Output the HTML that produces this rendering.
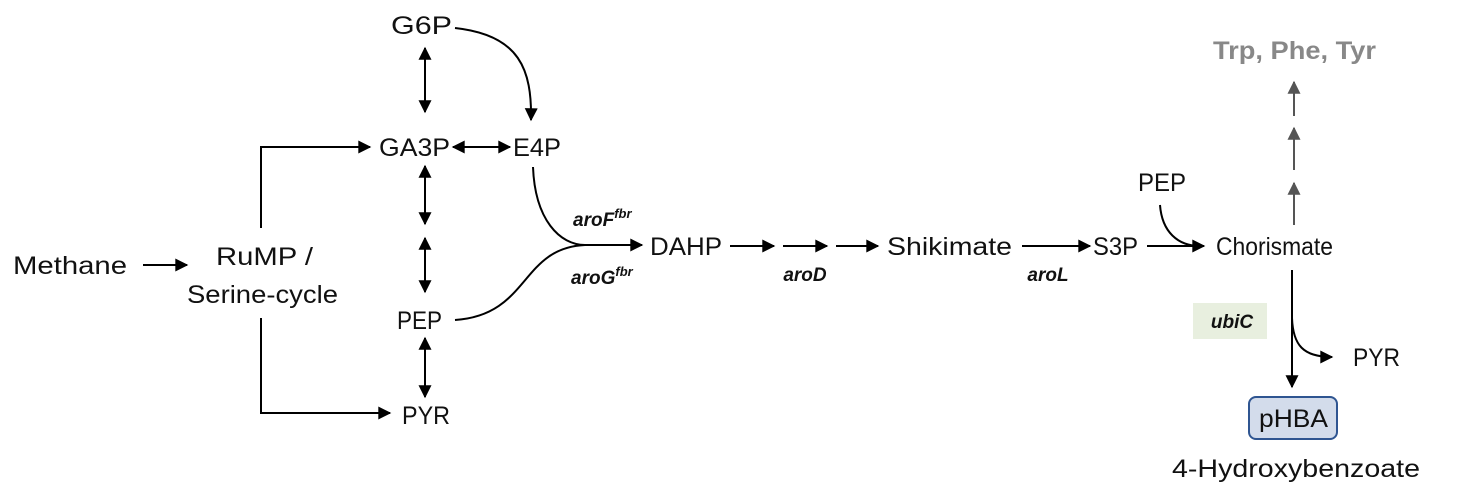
<!DOCTYPE html>
<html><head><style>
html,body{margin:0;padding:0;background:#fff;width:1460px;height:488px;overflow:hidden}
text{font-family:"Liberation Sans","DejaVu Sans",sans-serif;font-size:25px;fill:#111}
.e{font-style:italic;font-weight:bold;font-size:19px}
</style></head><body>
<svg width="1460" height="488" viewBox="0 0 1460 488" xmlns="http://www.w3.org/2000/svg">
<defs>
<marker id="a" viewBox="0 0 10 10" refX="9" refY="5" markerWidth="14" markerHeight="13" markerUnits="userSpaceOnUse" orient="auto-start-reverse"><path d="M0,0 L10,5 L0,10 z" fill="#000"/></marker>
<marker id="g" viewBox="0 0 10 10" refX="9" refY="5" markerWidth="14" markerHeight="13" markerUnits="userSpaceOnUse" orient="auto"><path d="M0,0 L10,5 L0,10 z" fill="#555"/></marker>
</defs>
<g stroke="#000" stroke-width="2" fill="none">
<path d="M143 265 H187" marker-end="url(#a)"/>
<path d="M261 228 V147 H370" marker-end="url(#a)"/>
<path d="M261 318 V413 H390" marker-end="url(#a)"/>
<path d="M425 48 V112" marker-start="url(#a)" marker-end="url(#a)"/>
<path d="M425 166 V224" marker-start="url(#a)" marker-end="url(#a)"/>
<path d="M425 238 V292" marker-start="url(#a)" marker-end="url(#a)"/>
<path d="M425 338 V397" marker-start="url(#a)" marker-end="url(#a)"/>
<path d="M453 147 H510" marker-start="url(#a)" marker-end="url(#a)"/>
<path d="M455 28 C520 35 532 70 531 120" marker-end="url(#a)"/>
<path d="M533 167 C535 220 560 245 585 245 H642" marker-end="url(#a)"/>
<path d="M455 320 C530 315 520 248 585 245"/>
<path d="M730 246 H774" marker-end="url(#a)"/>
<path d="M783 246 H827" marker-end="url(#a)"/>
<path d="M836 246 H878" marker-end="url(#a)"/>
<path d="M1022 246 H1090" marker-end="url(#a)"/>
<path d="M1147 246 H1204" marker-end="url(#a)"/>
<path d="M1160 205 C1162 232 1178 246 1200 246"/>
<path d="M1292 270 V387" marker-end="url(#a)"/>
<path d="M1292 318 C1293 345 1303 357 1332 357" marker-end="url(#a)"/>
</g>
<g stroke="#555" stroke-width="2" fill="none">
<path d="M1294 225 V183" marker-end="url(#g)"/>
<path d="M1294 170 V128" marker-end="url(#g)"/>
<path d="M1294 116 V82" marker-end="url(#g)"/>
</g>
<text x="391" y="34" textLength="61" lengthAdjust="spacingAndGlyphs">G6P</text>
<text x="379" y="156" textLength="71" lengthAdjust="spacingAndGlyphs">GA3P</text>
<text x="513" y="156" textLength="48" lengthAdjust="spacingAndGlyphs">E4P</text>
<text x="397" y="329" textLength="45" lengthAdjust="spacingAndGlyphs">PEP</text>
<text x="402" y="424" textLength="48" lengthAdjust="spacingAndGlyphs">PYR</text>
<text x="13" y="274" textLength="114" lengthAdjust="spacingAndGlyphs">Methane</text>
<text x="216" y="265" textLength="97" lengthAdjust="spacingAndGlyphs">RuMP /</text>
<text x="187" y="303" textLength="151" lengthAdjust="spacingAndGlyphs">Serine-cycle</text>
<text x="650" y="255" textLength="72" lengthAdjust="spacingAndGlyphs">DAHP</text>
<text x="887" y="255" textLength="125" lengthAdjust="spacingAndGlyphs">Shikimate</text>
<text x="1093" y="255" textLength="45" lengthAdjust="spacingAndGlyphs">S3P</text>
<text x="1216" y="255" textLength="117" lengthAdjust="spacingAndGlyphs">Chorismate</text>
<text x="1138" y="191" textLength="48" lengthAdjust="spacingAndGlyphs">PEP</text>
<text x="1213" y="59" textLength="163" lengthAdjust="spacingAndGlyphs" style="fill:#888;font-weight:bold">Trp, Phe, Tyr</text>
<text x="1353" y="366" textLength="47" lengthAdjust="spacingAndGlyphs">PYR</text>
<text x="1172" y="477" textLength="248" lengthAdjust="spacingAndGlyphs">4-Hydroxybenzoate</text>
<text class="e" x="573" y="226">aroF<tspan dy="-8" font-size="13">fbr</tspan></text>
<text class="e" x="571" y="284">aroG<tspan dy="-8" font-size="13">fbr</tspan></text>
<text class="e" x="805" y="281" text-anchor="middle">aroD</text>
<text class="e" x="1048" y="281" text-anchor="middle">aroL</text>
<rect x="1193" y="303" width="74" height="36" fill="#e8efdf"/>
<text class="e" x="1232" y="328" text-anchor="middle">ubiC</text>
<rect x="1249" y="397" width="88" height="42" rx="7" fill="#d3dceb" stroke="#2f5591" stroke-width="2"/>
<text x="1259" y="427" textLength="69" lengthAdjust="spacingAndGlyphs">pHBA</text>
</svg>
</body></html>
